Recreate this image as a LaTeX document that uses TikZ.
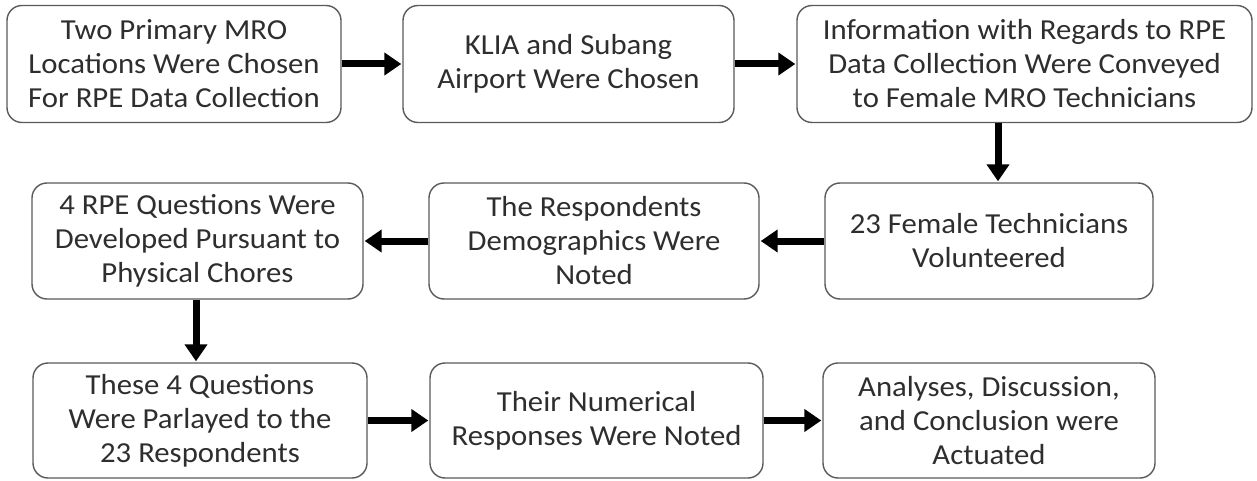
\documentclass[tikz,border=0pt]{standalone}
\usepackage{fontspec}
\setmainfont{Carlito}[FakeStretch=1.06]
\usetikzlibrary{arrows.meta}
\definecolor{boxline}{HTML}{5A5A5A}
\definecolor{txt}{HTML}{2E2E2E}
\tikzset{
  stepbox/.style={draw=boxline, line width=1.4pt, rounded corners=15pt, fill=white,
    align=center, text=txt, font=\fontsize{29}{34}\selectfont, inner sep=0pt,
    minimum height=117pt},
  flow/.style={line width=7pt, draw=black, -{Triangle[length=17pt,width=22pt]}, shorten >=1pt}
}
\begin{document}
\begin{tikzpicture}[x=1pt,y=-1pt]
\useasboundingbox (0,0) rectangle (1257,481);
\node[stepbox, minimum width=334pt] (b1) at (174,64) {Two Primary MRO\\Locations Were Chosen\\For RPE Data Collection};
\node[stepbox, minimum width=331pt] (b2) at (568.5,64) {KLIA and Subang\\Airport Were Chosen};
\node[stepbox, minimum width=455pt] (b3) at (1024.5,64) {Information with Regards to RPE\\Data Collection Were Conveyed\\to Female MRO Technicians};
\node[stepbox, minimum width=331pt, minimum height=116pt] (b4) at (197.5,241) {4 RPE Questions Were\\Developed Pursuant to\\Physical Chores};
\node[stepbox, minimum width=330pt, minimum height=116pt] (b5) at (594,241) {The Respondents\\Demographics Were\\Noted};
\node[stepbox, minimum width=328pt, minimum height=116pt] (b6) at (989,241) {23 Female Technicians\\Volunteered};
\node[stepbox, minimum width=334pt, minimum height=115pt] (b7) at (200,420.5) {These 4 Questions\\Were Parlayed to the\\23 Respondents};
\node[stepbox, minimum width=333pt, minimum height=115pt] (b8) at (596.5,420.5) {Their Numerical\\Responses Were Noted};
\node[stepbox, minimum width=332pt, minimum height=115pt] (b9) at (989,420.5) {Analyses, Discussion,\\and Conclusion were\\Actuated};
\coordinate (d1) at (998,0);
\coordinate (d2) at (196,0);
\draw[flow] (b1.east) -- (b2.west);
\draw[flow] (b2.east) -- (b3.west);
\draw[flow] (b3.south -| d1) -- (b6.north -| d1);
\draw[flow] (b6.west) -- (b5.east);
\draw[flow] (b5.west) -- (b4.east);
\draw[flow] (b4.south -| d2) -- (b7.north -| d2);
\draw[flow] (b7.east) -- (b8.west);
\draw[flow] (b8.east) -- (b9.west);
\end{tikzpicture}
\end{document}
